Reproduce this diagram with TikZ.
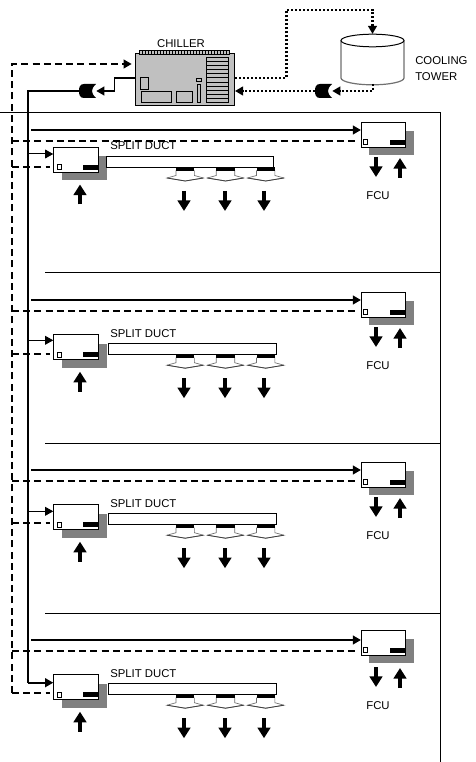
\documentclass[tikz,border=0pt]{standalone}
\usepackage{fontspec}
\setmainfont{Liberation Sans}
\usetikzlibrary{arrows.meta}
\definecolor{shadegray}{HTML}{808080}
\definecolor{platgray}{HTML}{C0C0C0}
\definecolor{sidegray}{HTML}{707070}
\tikzset{
    unitbox/.style={draw, fill=white, line width=0.75pt, minimum width=33.4pt, minimum height=18.8pt, inner sep=0pt},
    shadebox/.style={fill=shadegray, minimum width=33.4pt, minimum height=18pt, inner sep=0pt},
    ductbox/.style={draw, fill=white, line width=0.75pt, minimum height=8.2pt, inner sep=0pt},
    txt/.style={font=\fontsize{8.5pt}{10pt}\selectfont, inner sep=0pt},
    pumpbox/.style={minimum width=12.75pt, minimum height=10.5pt, inner sep=0pt},
    supply/.style={line width=1.35pt},
    return/.style={line width=1.35pt, dash pattern=on 5.2pt off 3.2pt},
    cooling/.style={line width=1.8pt, dash pattern=on 1.5pt off 1.5pt},
    endtip/.style={-{Triangle[length=6pt,width=6.5pt]}},
    bigflow/.style={line width=3pt, -{Triangle[length=8pt,width=9.5pt]}}
}
\begin{document}
\begin{tikzpicture}[x=0.75pt, y=-0.75pt]
    \useasboundingbox (0,0) rectangle (475,762);

    % Building outline and floor lines
    \coordinate (roofL) at (0,113);
    \coordinate (roofR) at (440,113);
    \coordinate (wallB) at (440,762);
    \draw[line width=0.75pt] (roofL) -- (roofR) -- (wallB);
    \foreach \y [count=\i] in {273,443,613} {
        \coordinate (slabL\i) at (45,\y);
        \coordinate (slabR\i) at (440,\y);
        \draw[line width=0.75pt] (slabL\i) -- (slabR\i);
    }

    % Chiller
    \node[draw, fill=platgray, line width=0.75pt, minimum width=74.25pt, minimum height=39pt, inner sep=0pt] (chiller) at (185,80) {};
    \node[txt] (chillerlabel) at (181,43.5) {CHILLER};
    \draw[fill=platgray, line width=0.6pt] (139,50.5) rectangle (229,54.3);
    \foreach \x in {142,145,...,227} {
        \draw[line width=0.6pt] (\x,50.5) -- (\x,54.3);
    }
    \draw[line width=0.75pt] (206.5,57.5) rectangle (228,102.5);
    \foreach \y in {61.6,65.7,...,99} {
        \draw[line width=0.75pt] (206.5,\y) -- (228,\y);
    }
    \draw[line width=0.6pt] (140.5,77.5) rectangle (148.5,89.5);
    \draw[line width=0.6pt] (141,91.5) rectangle (171.5,102.5);
    \draw[line width=0.6pt] (176.5,91.5) rectangle (192.5,102.5);
    \draw[line width=0.6pt] (196.5,78.5) rectangle (201.5,81);
    \draw[line width=0.6pt] (197.5,84.5) rectangle (200.5,102.5);

    % Cooling tower
    \node[minimum width=47.25pt, minimum height=38pt, inner sep=0pt] (tower) at (372.5,59.5) {};
    \draw[fill=white, draw=sidegray, line width=0.9pt] (341,40.5) -- (341,78) arc[start angle=180, end angle=360, x radius=31.5, y radius=-6.8] -- (404,40.5);
    \draw[fill=white, line width=0.75pt] (372.5,40.5) ellipse[x radius=31.5, y radius=6.3];
    \node[txt, anchor=west] (coolinglabel) at (415,61) {COOLING};
    \node[txt, anchor=west] (towerlabel) at (415,77) {TOWER};

    % Pumps
    \foreach \pname/\px in {pumpchw/79,pumpcw/315} {
        \node[pumpbox] (\pname) at (\px+8.5,91) {};
        \fill (\px+5,84) -- (\px+17,84) .. controls (\px+14,87) and (\px+13,89) .. (\px+13,91)
            .. controls (\px+13,93) and (\px+14,95) .. (\px+17,98) -- (\px+5,98)
            .. controls (\px+1,98) and (\px,95) .. (\px,91) .. controls (\px,87) and (\px+1,84) .. (\px+5,84) -- cycle;
    }

    % Chilled water loop at the plant
    \coordinate (riserB) at (28,683);
    \coordinate (retcorner) at (12,64);
    \coordinate (retB) at (12,693);
    \draw[supply, endtip] ([yshift=1.5pt]chiller.west) -- ++(-20.5,0) |- (pumpchw.east);
    \draw[supply] (pumpchw.west) -| (riserB);
    \draw[return, endtip, shorten >=2.5pt] (retB) -- (retcorner) -- (chiller.west |- retcorner);

    % Condenser water loop
    \coordinate (cwtop) at (286.5,10);
    \coordinate (cwout) at (373,84);
    \draw[cooling, endtip] ([yshift=1.5pt]chiller.east) -| (cwtop) -| (tower.north);
    \draw[cooling, endtip] (cwout) |- (pumpcw.east);
    \draw[cooling, endtip] (pumpcw.west) -- (chiller.east |- pumpcw.west);

    % FCU on each floor
    \foreach \f/\dy/\utop in {1/0/122,2/170/292,3/340/462,4/510/630} {
        \node[shadebox] (fcushade\f) at (391.5,\utop+21) {};
        \node[unitbox] (fcu\f) at (383.7,\utop+12.6) {};
        \draw[line width=0.75pt, fill=white] (363.5,\utop+17.5) rectangle (367.5,\utop+22.5);
        \fill (390,\utop+18) rectangle (405.7,\utop+23);
        \coordinate (fcusup\f) at (31,130+\dy);
        \coordinate (fcuret\f) at (12,141+\dy);
        \draw[supply, endtip] (fcusup\f) -- (fcu\f.west |- fcusup\f);
        \draw[return, shorten >=2.5pt] (fcuret\f) -- (fcu\f.west |- fcuret\f);
        \coordinate (fcudownA\f) at (376,157+\dy);
        \coordinate (fcudownB\f) at (376,177+\dy);
        \coordinate (fcuupA\f) at (400,178+\dy);
        \coordinate (fcuupB\f) at (400,158+\dy);
        \draw[bigflow] (fcudownA\f) -- (fcudownB\f);
        \draw[bigflow] (fcuupA\f) -- (fcuupB\f);
        \node[txt] (fcutext\f) at (378,196+\dy) {FCU};
    }

    % Split unit and duct on each floor
    \foreach \f/\utop/\ductL/\ductR/\bw/\bsup/\bret in {1/147.5/105.5/273/0.75/154/166.7,2/334.7/107.5/275.7/0.75/340.3/353.7,3/504.7/107.5/275.7/0.75/511.3/522.7,4/674.7/107.5/275.7/1.35/682.7/693.3} {
        \node[shadebox] (splitshade\f) at (84.5,\utop+20.8) {};
        \node[unitbox] (split\f) at (76,\utop+12.5) {};
        \draw[line width=0.75pt, fill=white] (57,\utop+17.5) rectangle (61,\utop+22.5);
        \fill (83.3,\utop+17.5) rectangle (98.7,\utop+22.5);
        \node[ductbox, anchor=north west, minimum width={(\ductR-\ductL)*0.75pt}] (duct\f) at (\ductL,\utop+8.7) {};
        \node[txt, anchor=west] (ducttext\f) at (110,\utop-1.5) {SPLIT DUCT};

        % Branches from the riser
        \coordinate (bsup\f) at (28,\bsup);
        \coordinate (bret\f) at (12,\bret);
        \draw[line width=\bw pt, endtip] (bsup\f) -- (split\f.west |- bsup\f);
        \draw[return, shorten >=2.5pt] (bret\f) -- (split\f.west |- bret\f);

        % Diffusers
        \foreach \dx/\ax [count=\n] in {176/184,216.3/225,256.5/264} {
            \draw[draw=sidegray, fill=white, line width=0.5pt] (\dx,\utop+23) -- (\dx,\utop+28)
                -- (\dx-9,\utop+30.5) -- (\dx+9.2,\utop+33.5) -- (\dx+27.4,\utop+30.5)
                -- (\dx+18.4,\utop+28) -- (\dx+18.4,\utop+23);
            \draw[line width=0.6pt, black!75] (\dx-9,\utop+30.5) -- (\dx+9.2,\utop+33.5) -- (\dx+27.4,\utop+30.5);
            \fill (\dx,\utop+20) rectangle (\dx+18.4,\utop+23.2);
            \coordinate (dfA\f\n) at (\ax,\utop+43.5);
            \coordinate (dfB\f\n) at (\ax,\utop+63.5);
            \draw[bigflow] (dfA\f\n) -- (dfB\f\n);
        }

        % Intake arrow
        \coordinate (inA\f) at (80,\utop+57);
        \coordinate (inB\f) at (80,\utop+37);
        \draw[bigflow] (inA\f) -- (inB\f);
    }
\end{tikzpicture}
\end{document}
